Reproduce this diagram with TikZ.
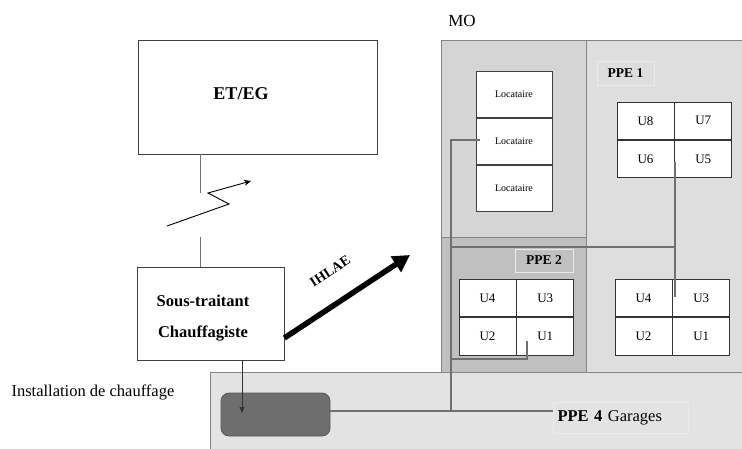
\documentclass[tikz,border=0pt]{standalone}
\usepackage{fontspec}
\setmainfont{Liberation Serif}
\usetikzlibrary{arrows.meta}
\definecolor{colL}{HTML}{D5D5D5}
\definecolor{colR}{HTML}{DEDEDE}
\definecolor{colP}{HTML}{C0C0C0}
\definecolor{colI}{HTML}{E3E3E3}
\definecolor{colD}{HTML}{6E6E6E}
\definecolor{pipe}{HTML}{707070}
\definecolor{edge}{HTML}{858585}
\begin{document}
\begin{tikzpicture}[x=1pt,y=-1pt,
  wbox/.style={draw=black!75, line width=0.7pt, fill=white, inner sep=0pt},
  cell/.style={draw=black!80, line width=0.8pt, fill=white, minimum width=57pt, minimum height=37.5pt, inner sep=0pt, font=\fontsize{13}{15}\selectfont},
  loc/.style={draw=black!75, line width=0.8pt, fill=white, minimum width=76pt, minimum height=46pt, inner sep=0pt, font=\fontsize{10}{12}\selectfont},
  lbl/.style={draw=white!92!black, line width=1pt, inner sep=0pt, font=\bfseries\fontsize{13.5}{15}\selectfont},
  region/.style={draw=edge, line width=0.9pt},
  pipeline/.style={draw=pipe, line width=2.2pt},
  thin/.style={draw=black!55, line width=0.6pt}]
\useasboundingbox (0,0) rectangle (742,448);
\fill[white] (0,0) rectangle (742,448);

% regions
\path[region, fill=colR] (441,40) rectangle (746,372);
\path[region, fill=colL] (441,40) rectangle (586,237);
\path[region, fill=colP] (441,237) rectangle (586,372);
\path[region, fill=colI] (210,372) rectangle (746,452);

\node[font=\fontsize{17}{19}\selectfont] (mo) at (462,21) {MO};
\node[font=\fontsize{16.5}{18}\selectfont, anchor=west] (inst) at (8,392) {Installation de chauffage};

% ET/EG and sous-traitant
\node[wbox, minimum width=239pt, minimum height=114pt] (etg) at (257.5,97) {};
\node[font=\bfseries\fontsize{18}{20}\selectfont] (etgt) at (241,94) {ET/EG};
\node[wbox, minimum width=147pt, minimum height=93pt] (st) at (210.5,313.5) {};
\node[font=\bfseries\fontsize{16.5}{31}\selectfont, align=center] (stt) at (203,318) {Sous-traitant\\Chauffagiste};

\coordinate (z1) at (200,193);
\coordinate (z2) at (200,237);
\draw[thin] (etg.south -| z1) -- (z1);
\draw[thin] (z2) -- (st.north -| z2);
\coordinate (l0) at (167,226);
\coordinate (l1) at (229,204);
\coordinate (l2) at (208,193);
\coordinate (l3) at (251,181);
\draw[black, line width=0.9pt, -{Stealth[length=7pt,width=6pt]}] (l0) -- (l1) -- (l2) -- (l3);

% IHLAE arrow
\coordinate (ihtip) at (410,255);
\draw[line width=5.5pt, -{Triangle[length=17pt,width=18pt]}] (st.east |- 0,338) -- (ihtip);
\node[font=\bfseries\fontsize{14}{16}\selectfont, rotate=33.5] (ih) at (330,271) {IHLAE};

% Locataire column
\node[loc] (loc1) at (514,94.5) {Locataire};
\node[loc, anchor=north] (loc2) at (loc1.south) {Locataire};
\node[loc, anchor=north] (loc3) at (loc2.south) {Locataire};

% PPE 1
\node[lbl, minimum width=57pt, minimum height=24pt, fill=colR] (ppe1) at (625.5,73) {PPE 1};
\node[cell] (a8) at (645.5,120.75) {U8};
\node[cell, anchor=west] (a7) at (a8.east) {U7};
\node[cell, anchor=north] (a6) at (a8.south) {U6};
\node[cell, anchor=west] (a5) at (a6.east) {U5};

% PPE 2
\node[lbl, minimum width=58pt, minimum height=23pt, fill=colP] (ppe2) at (544,260.5) {PPE 2};
\node[cell] (b4) at (487.5,298) {U4};
\node[cell, anchor=west] (b3) at (b4.east) {U3};
\node[cell, anchor=north] (b2) at (b4.south) {U2};
\node[cell, anchor=west] (b1) at (b2.east) {U1};

% right grid
\node[cell] (c4) at (643.5,298) {U4};
\node[cell, anchor=west] (c3) at (c4.east) {U3};
\node[cell, anchor=north] (c2) at (c4.south) {U2};
\node[cell, anchor=west] (c1) at (c2.east) {U1};

% heating installation
\node[draw=black!65, fill=colD, rounded corners=8pt, minimum width=109pt, minimum height=43pt, line width=0.8pt] (chauf) at (275.5,414.5) {};
\node[lbl, fill=colI, minimum width=135pt, minimum height=31pt, font=\fontsize{16.5}{18}\selectfont, anchor=west, text width=127pt, align=left] (ppe4) at (553,417.5) {\textbf{PPE 4} Garages};
\coordinate (atip) at (242,413);
\draw[black!80, line width=0.7pt, -{Triangle[length=6pt,width=5pt]}] (st.south -| atip) -- (atip);

% pipes
\coordinate (p0) at (480,140);
\coordinate (p1) at (451,140);
\coordinate (p2) at (451,411);
\coordinate (q0) at (675,162);
\coordinate (q1) at (675,297);
\coordinate (q2) at (451,247);
\coordinate (r0) at (527,341);
\coordinate (r1) at (527,359);
\coordinate (r2) at (451,359);
\draw[pipeline] (p0) -- (p1) -- (p2);
\draw[pipeline] (q0) -- (q1);
\draw[pipeline] (q2) -- (q2 -| q0);
\draw[pipeline] (r0) -- (r1) -- (r2);
\draw[pipeline] (chauf.east |- p2) -- (ppe4.west |- p2);
\end{tikzpicture}
\end{document}
